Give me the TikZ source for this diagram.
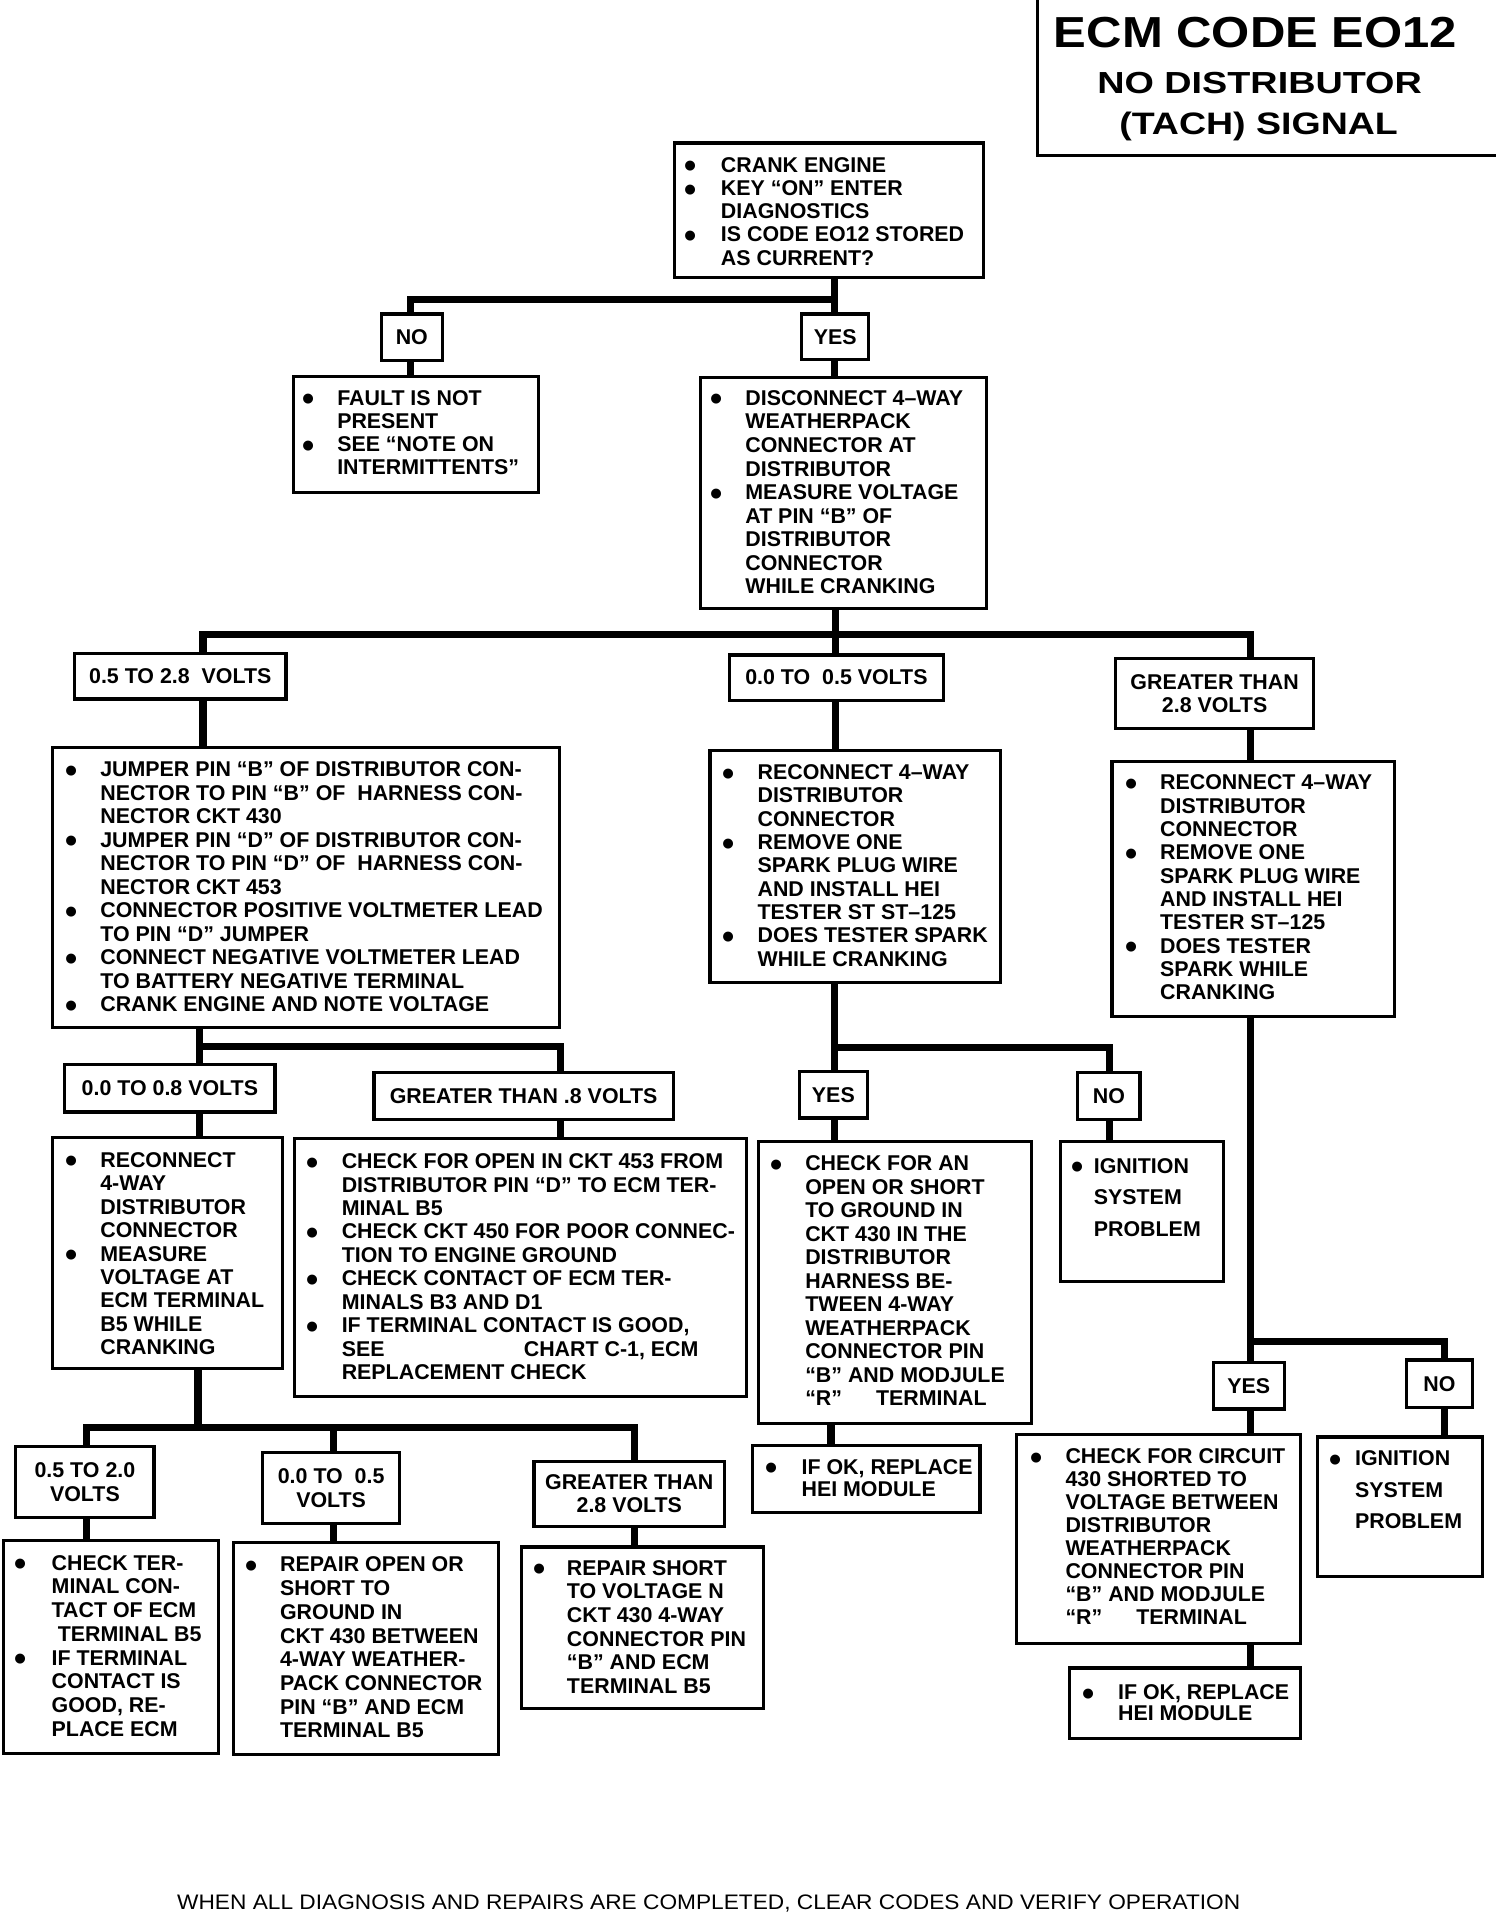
\documentclass[tikz,border=0pt]{standalone}
\usepackage{fontspec}
\usepackage{graphicx}
\setmainfont{Liberation Sans}
\newdimen\un \un=0.5pt
\newcommand\bu{\raisebox{-0.26em}{\scalebox{1.62}{\textbullet}}}
\tikzset{
  every node/.style={inner sep=0pt, outer sep=0pt},
  boxst/.style={draw, line width=1.3pt, rectangle, inner sep=0pt},
  lab/.style={boxst, align=center, font=\bfseries\fontsize{8.75pt}{9.6pt}\selectfont},
  txt/.style={anchor=base west, font=\bfseries\fontsize{8.75pt}{9.6pt}\selectfont},
  conn/.style={line width=3pt, line join=miter},
  ttl/.style={anchor=base west, font=\bfseries},
}
% empty box: name, x1, y1, x2, y2
\newcommand\rbox[5]{\node[boxst, minimum width={(#4-#2)*0.5pt}, minimum height={(#5-#3)*0.5pt}] (#1) at ({(#2+#4)/2},{(#3+#5)/2}) {};}
% label box: name, x1, y1, x2, y2, text
\newcommand\lbox[6]{\node[lab, minimum width={(#4-#2)*0.5pt}, minimum height={(#5-#3)*0.5pt}] (#1) at ({(#2+#4)/2},{(#3+#5)/2}) {#6};}
% bullet text: name, bullet x, first line centre y, bullet column width, rows, line pitch
\newcommand\btext[6]{\node[txt] (#1) at ({#2-5.5},{#3+6}) {\fontsize{8.75pt}{#6}\selectfont\begin{tabular}[t]{@{}p{\dimexpr #4\un+5.5\un\relax}@{}l@{}}#5\end{tabular}};}
\begin{document}
\begin{tikzpicture}[x=0.5pt, y=-0.5pt]
\fill[white] (0,0) rectangle (1231,1568);
\useasboundingbox (0,0) rectangle (1231,1568);

% ---------- title ----------
\draw[line width=1.3pt] (849,0) -- (849,127) -- (1224,127);
\node[ttl] (t1) at (862.5,38.5) {\resizebox{165pt}{12.4pt}{\bfseries ECM CODE EO12}};
\node[ttl] (t2) at (898,76.5) {\resizebox{132.8pt}{8.7pt}{\bfseries NO DISTRIBUTOR}};
\node[ttl] (t3) at (916,110) {\resizebox{114pt}{9.2pt}{\bfseries (TACH) SIGNAL}};

% ---------- boxes ----------
\rbox{bA}{552}{117}{805}{227}
\rbox{bB}{240}{308}{441}{403}
\rbox{bC}{573}{309}{807}{498}
\rbox{bD}{43}{612}{458}{841}
\rbox{bE}{581}{614}{819}{804}
\rbox{bF}{910}{623}{1141}{832}
\rbox{bG}{43}{931}{231}{1120}
\rbox{bH}{241}{932}{611}{1143}
\rbox{bI}{621}{934}{844}{1165}
\rbox{bJ}{868}{934}{1001}{1049}
\rbox{bK}{616}{1183}{802}{1238}
\rbox{bL}{832}{1174}{1064}{1345}
\rbox{bM}{1078}{1176}{1213}{1290}
\rbox{bN}{875}{1365}{1064}{1423}
\rbox{bO}{3}{1261}{179}{1435}
\rbox{bP}{191}{1262}{408}{1436}
\rbox{bQ}{427}{1266}{625}{1398}

% ---------- labels ----------
\lbox{no1}{312}{257}{362}{295}{NO}
\lbox{yes1}{656}{257}{711}{294}{YES}
\lbox{L1}{61}{535}{234}{572}{0.5 TO 2.8\ \ VOLTS}
\lbox{L2}{597}{536}{772}{573}{0.0 TO\ \ 0.5 VOLTS}
\lbox{L3}{913}{539}{1075}{596}{GREATER THAN\\2.8 VOLTS}
\lbox{L4}{53}{871}{225}{910}{0.0 TO 0.8 VOLTS}
\lbox{L5}{306}{878}{551}{916}{GREATER THAN .8 VOLTS}
\lbox{yes2}{654}{877}{710}{915}{YES}
\lbox{no2}{882}{878}{933}{916}{NO}
\lbox{yes3}{993}{1115}{1051}{1153}{YES}
\lbox{no3}{1151}{1113}{1205}{1152}{NO}
\lbox{L6}{13}{1184}{126}{1242}{0.5 TO 2.0\\VOLTS}
\lbox{L7}{215}{1189}{327}{1247}{0.0 TO\ \ 0.5\\VOLTS}
\lbox{L8}{437}{1196}{593}{1249}{GREATER THAN\\2.8 VOLTS}

% ---------- texts ----------
\btext{tA}{566}{135}{24}{\bu & CRANK ENGINE\\ \bu & KEY “ON” ENTER\\ & DIAGNOSTICS\\ \bu & IS CODE EO12 STORED\\ & AS CURRENT?}{9.5pt}
\btext{tB}{253}{325.5}{23}{\bu & FAULT IS NOT\\ & PRESENT\\ \bu & SEE “NOTE ON\\ & INTERMITTENTS”}{9.5pt}
\btext{tC}{587}{325.7}{23}{\bu & DISCONNECT 4–WAY\\ & WEATHERPACK\\ & CONNECTOR AT\\ & DISTRIBUTOR\\ \bu & MEASURE VOLTAGE\\ & AT PIN “B” OF\\ & DISTRIBUTOR\\ & CONNECTOR\\ & WHILE CRANKING}{9.65pt}
\btext{tD}{58.7}{629.8}{23.4}{\bu & JUMPER PIN “B” OF DISTRIBUTOR CON-\\ & NECTOR TO PIN “B” OF\ \ HARNESS CON-\\ & NECTOR CKT 430\\ \bu & JUMPER PIN “D” OF DISTRIBUTOR CON-\\ & NECTOR TO PIN “D” OF\ \ HARNESS CON-\\ & NECTOR CKT 453\\ \bu & CONNECTOR POSITIVE VOLTMETER LEAD\\ & TO PIN “D” JUMPER\\ \bu & CONNECT NEGATIVE VOLTMETER LEAD\\ & TO BATTERY NEGATIVE TERMINAL\\ \bu & CRANK ENGINE AND NOTE VOLTAGE}{9.6pt}
\btext{tE}{597}{632}{23}{\bu & RECONNECT 4–WAY\\ & DISTRIBUTOR\\ & CONNECTOR\\ \bu & REMOVE ONE\\ & SPARK PLUG WIRE\\ & AND INSTALL HEI\\ & TESTER ST ST–125\\ \bu & DOES TESTER SPARK\\ & WHILE CRANKING}{9.55pt}
\btext{tF}{926.8}{640.3}{22.6}{\bu & RECONNECT 4–WAY\\ & DISTRIBUTOR\\ & CONNECTOR\\ \bu & REMOVE ONE\\ & SPARK PLUG WIRE\\ & AND INSTALL HEI\\ & TESTER ST–125\\ \bu & DOES TESTER\\ & SPARK WHILE\\ & CRANKING}{9.55pt}
\btext{tG}{59.5}{949.2}{22.6}{\bu & RECONNECT\\ & 4-WAY\\ & DISTRIBUTOR\\ & CONNECTOR\\ \bu & MEASURE\\ & VOLTAGE AT\\ & ECM TERMINAL\\ & B5 WHILE\\ & CRANKING}{9.6pt}
\btext{tH}{256}{950.3}{23.7}{\bu & CHECK FOR OPEN IN CKT 453 FROM\\ & DISTRIBUTOR PIN “D” TO ECM TER-\\ & MINAL B5\\ \bu & CHECK CKT 450 FOR POOR CONNEC-\\ & TION TO ENGINE GROUND\\ \bu & CHECK CONTACT OF ECM TER-\\ & MINALS B3 AND D1\\ \bu & IF TERMINAL CONTACT IS GOOD,\\ & \makebox[74.5pt][l]{SEE}CHART C-1, ECM\\ & REPLACEMENT CHECK}{9.6pt}
\btext{tI}{636}{952.2}{23}{\bu & CHECK FOR AN\\ & OPEN OR SHORT\\ & TO GROUND IN\\ & CKT 430 IN THE\\ & DISTRIBUTOR\\ & HARNESS BE-\\ & TWEEN 4-WAY\\ & WEATHERPACK\\ & CONNECTOR PIN\\ & “B” AND MODJULE\\ & \makebox[29pt][l]{“R”}TERMINAL}{9.6pt}
\btext{tJ}{882.7}{954}{12.5}{\bu & IGNITION\\ & SYSTEM\\ & PROBLEM}{13pt}
\btext{tK}{631.6}{1200.4}{24.4}{\bu & IF OK, REPLACE\\ & HEI MODULE}{9pt}
\btext{tL}{848.7}{1192}{23.3}{\bu & CHECK FOR CIRCUIT\\ & 430 SHORTED TO\\ & VOLTAGE BETWEEN\\ & DISTRIBUTOR\\ & WEATHERPACK\\ & CONNECTOR PIN\\ & “B” AND MODJULE\\ & \makebox[29pt][l]{“R”}TERMINAL}{9.4pt}
\btext{tM}{1093.5}{1193.6}{15.5}{\bu & IGNITION\\ & SYSTEM\\ & PROBLEM}{12.9pt}
\btext{tN}{891}{1385}{24}{\bu & IF OK, REPLACE\\ & HEI MODULE}{8.5pt}
\btext{tO}{17.7}{1279}{24.6}{\bu & CHECK TER-\\ & MINAL CON-\\ & TACT OF ECM\\ & \hspace{2.5pt}TERMINAL B5\\ \bu & IF TERMINAL\\ & CONTACT IS\\ & GOOD, RE-\\ & PLACE ECM}{9.7pt}
\btext{tP}{206}{1280.4}{23.2}{\bu & REPAIR OPEN OR\\ & SHORT TO\\ & GROUND IN\\ & CKT 430 BETWEEN\\ & 4-WAY WEATHER-\\ & PACK CONNECTOR\\ & PIN “B” AND ECM\\ & TERMINAL B5}{9.7pt}
\btext{tQ}{442}{1283}{22}{\bu & REPAIR SHORT\\ & TO VOLTAGE N\\ & CKT 430 4-WAY\\ & CONNECTOR PIN\\ & “B” AND ECM\\ & TERMINAL B5}{9.7pt}

% ---------- connectors ----------
\coordinate (j1) at (683,245);
\coordinate (j1l) at (336,245);
\draw[conn] (bA.south -| j1) -- (j1) -- (j1l) -- (j1l |- no1.north);
\draw[conn] (j1) -- (j1 |- yes1.north);
\draw[conn] (j1l |- no1.south) -- (j1l |- bB.north);
\draw[conn] (j1 |- yes1.south) -- (j1 |- bC.north);

\coordinate (j2) at (684,519.5);
\coordinate (j2l) at (166,519.5);
\coordinate (j2r) at (1023.5,519.5);
\draw[conn] (bC.south -| j2) -- (j2);
\draw[conn] (j2l |- L1.north) -- (j2l) -- (j2r) -- (j2r |- L3.north);
\draw[conn] (j2) -- (j2 |- L2.north);
\draw[conn] (j2l |- L1.south) -- (j2l |- bD.north);
\draw[conn] (j2 |- L2.south) -- (j2 |- bE.north);
\draw[conn] (j2r |- L3.south) -- (j2r |- bF.north);

\coordinate (j3) at (163,856.5);
\coordinate (j3r) at (458.5,856.5);
\draw[conn] (j3 |- bD.south) -- (j3) -- (j3r) -- (j3r |- L5.north);
\draw[conn] (j3) -- (j3 |- L4.north);
\draw[conn] (j3 |- L4.south) -- (j3 |- bG.north);
\draw[conn] (j3r |- L5.south) -- (j3r |- bH.north);

\coordinate (j4) at (683,857);
\coordinate (j4r) at (908,857);
\draw[conn] (j4 |- bE.south) -- (j4) -- (j4r) -- (j4r |- no2.north);
\draw[conn] (j4) -- (j4 |- yes2.north);
\draw[conn] (j4 |- yes2.south) -- (j4 |- bI.north);
\draw[conn] (j4r |- no2.south) -- (j4r |- bJ.north);
\coordinate (j5) at (680,1170);
\draw[conn] (j5 |- bI.south) -- (j5 |- bK.north);

\coordinate (j6) at (1023.5,1098);
\coordinate (j6r) at (1182,1098);
\draw[conn] (j6 |- bF.south) -- (j6) -- (j6r) -- (j6r |- no3.north);
\draw[conn] (j6) -- (j6 |- yes3.north);
\draw[conn] (j6 |- yes3.south) -- (j6 |- bL.north);
\draw[conn] (j6r |- no3.south) -- (j6r |- bM.north);
\draw[conn] (j6 |- bL.south) -- (j6 |- bN.north);

\coordinate (j7) at (162,1168);
\coordinate (j7l) at (71,1168);
\coordinate (j7m) at (273,1168);
\coordinate (j7r) at (519,1168);
\draw[conn] (j7 |- bG.south) -- (j7);
\draw[conn] (j7l |- L6.north) -- (j7l) -- (j7r) -- (j7r |- L8.north);
\draw[conn] (j7m) -- (j7m |- L7.north);
\draw[conn] (j7l |- L6.south) -- (j7l |- bO.north);
\draw[conn] (j7m |- L7.south) -- (j7m |- bP.north);
\draw[conn] (j7r |- L8.south) -- (j7r |- bQ.north);

% ---------- footer ----------
\node[anchor=base west] (foot) at (145,1563) {\resizebox{435pt}{6pt}{WHEN ALL DIAGNOSIS AND REPAIRS ARE COMPLETED, CLEAR CODES AND VERIFY OPERATION}};
\end{tikzpicture}
\end{document}
